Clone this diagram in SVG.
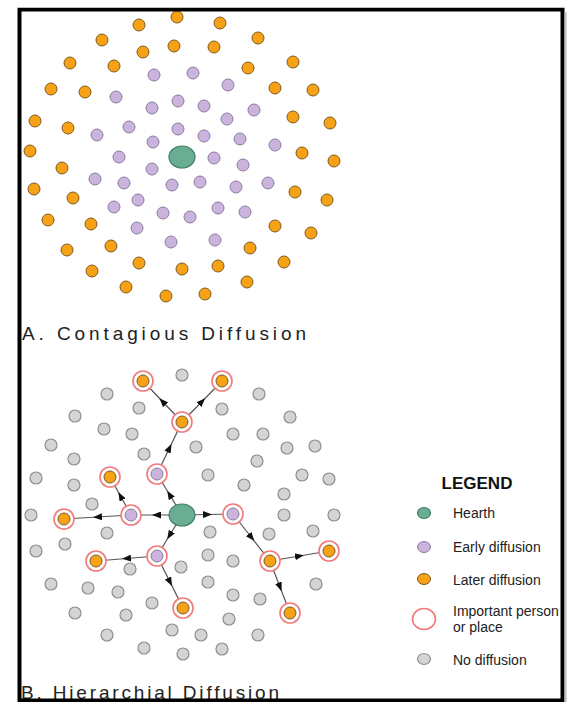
<svg xmlns="http://www.w3.org/2000/svg" width="570" height="702" viewBox="0 0 570 702">
<style>
.o{fill:#f6a116;stroke:#7d5c22;stroke-width:1}
.p{fill:#cab4de;stroke:#8b7b9e;stroke-width:1}
.g{fill:#d4d4d4;stroke:#8e8e8e;stroke-width:1.2}
.h{fill:#69ae93;stroke:#3f7c65;stroke-width:1.2}
.r{fill:#fff;stroke:#f07a7a;stroke-width:1.6}
.c{fill:none;stroke:#555;stroke-width:1.2;marker-mid:url(#ar)}
.lbl{font-family:"Liberation Sans",Arial,sans-serif;font-size:19px;fill:#222}
.lg{font-family:"Liberation Sans",Arial,sans-serif;font-size:14px;fill:#222}
</style>
<defs>
<marker id="ar" markerUnits="userSpaceOnUse" markerWidth="9" markerHeight="7" refX="4.5" refY="3.5" orient="auto">
<path d="M0,0 L9,3.5 L0,7 z" fill="#111"/>
</marker>
</defs>
<rect x="0" y="0" width="570" height="702" fill="#fff"/>

<g id="contagious">
<g id="a-later">
<circle class="o" cx="177" cy="17" r="6"/>
<circle class="o" cx="139" cy="25" r="6"/>
<circle class="o" cx="220" cy="23" r="6"/>
<circle class="o" cx="102" cy="40" r="6"/>
<circle class="o" cx="174" cy="46" r="6"/>
<circle class="o" cx="143" cy="52" r="6"/>
<circle class="o" cx="214" cy="47" r="6"/>
<circle class="o" cx="258" cy="38" r="6"/>
<circle class="o" cx="70" cy="63" r="6"/>
<circle class="o" cx="114" cy="66" r="6"/>
<circle class="o" cx="248" cy="68" r="6"/>
<circle class="o" cx="293" cy="62" r="6"/>
<circle class="o" cx="51" cy="89" r="6"/>
<circle class="o" cx="85" cy="92" r="6"/>
<circle class="o" cx="275" cy="88" r="6"/>
<circle class="o" cx="313" cy="90" r="6"/>
<circle class="o" cx="35" cy="121" r="6"/>
<circle class="o" cx="68" cy="128" r="6"/>
<circle class="o" cx="293" cy="117" r="6"/>
<circle class="o" cx="330" cy="123" r="6"/>
<circle class="o" cx="30" cy="151" r="6"/>
<circle class="o" cx="62" cy="168" r="6"/>
<circle class="o" cx="302" cy="153" r="6"/>
<circle class="o" cx="334" cy="161" r="6"/>
<circle class="o" cx="34" cy="189" r="6"/>
<circle class="o" cx="73" cy="198" r="6"/>
<circle class="o" cx="295" cy="192" r="6"/>
<circle class="o" cx="327" cy="200" r="6"/>
<circle class="o" cx="48" cy="220" r="6"/>
<circle class="o" cx="91" cy="224" r="6"/>
<circle class="o" cx="275" cy="226" r="6"/>
<circle class="o" cx="311" cy="233" r="6"/>
<circle class="o" cx="67" cy="250" r="6"/>
<circle class="o" cx="111" cy="246" r="6"/>
<circle class="o" cx="250" cy="248" r="6"/>
<circle class="o" cx="92" cy="271" r="6"/>
<circle class="o" cx="139" cy="263" r="6"/>
<circle class="o" cx="182" cy="269" r="6"/>
<circle class="o" cx="218" cy="266" r="6"/>
<circle class="o" cx="284" cy="262" r="6"/>
<circle class="o" cx="126" cy="287" r="6"/>
<circle class="o" cx="166" cy="296" r="6"/>
<circle class="o" cx="205" cy="294" r="6"/>
<circle class="o" cx="247" cy="282" r="6"/>
</g>
<g id="a-early">
<circle class="p" cx="154" cy="75" r="6"/>
<circle class="p" cx="193" cy="73" r="6"/>
<circle class="p" cx="228" cy="85" r="6"/>
<circle class="p" cx="116" cy="97" r="6"/>
<circle class="p" cx="178" cy="101" r="6"/>
<circle class="p" cx="152" cy="108" r="6"/>
<circle class="p" cx="204" cy="106" r="6"/>
<circle class="p" cx="254" cy="110" r="6"/>
<circle class="p" cx="227" cy="119" r="6"/>
<circle class="p" cx="129" cy="127" r="6"/>
<circle class="p" cx="178" cy="129" r="6"/>
<circle class="p" cx="97" cy="135" r="6"/>
<circle class="p" cx="204" cy="136" r="6"/>
<circle class="p" cx="240" cy="139" r="6"/>
<circle class="p" cx="275" cy="145" r="6"/>
<circle class="p" cx="153" cy="142" r="6"/>
<circle class="p" cx="119" cy="157" r="6"/>
<circle class="p" cx="214" cy="158" r="6"/>
<circle class="p" cx="152" cy="169" r="6"/>
<circle class="p" cx="243" cy="165" r="6"/>
<circle class="p" cx="95" cy="179" r="6"/>
<circle class="p" cx="124" cy="183" r="6"/>
<circle class="p" cx="172" cy="185" r="6"/>
<circle class="p" cx="200" cy="182" r="6"/>
<circle class="p" cx="236" cy="187" r="6"/>
<circle class="p" cx="268" cy="183" r="6"/>
<circle class="p" cx="138" cy="200" r="6"/>
<circle class="p" cx="114" cy="207" r="6"/>
<circle class="p" cx="163" cy="213" r="6"/>
<circle class="p" cx="190" cy="217" r="6"/>
<circle class="p" cx="218" cy="208" r="6"/>
<circle class="p" cx="245" cy="212" r="6"/>
<circle class="p" cx="137" cy="228" r="6"/>
<circle class="p" cx="171" cy="242" r="6"/>
<circle class="p" cx="215" cy="240" r="6"/>
</g>
<ellipse id="a-hearth" class="h" cx="182" cy="157" rx="13" ry="11"/>
</g>
<text class="lbl" x="22" y="340" textLength="284" lengthAdjust="spacing">A. Contagious Diffusion</text>

<g id="hierarchical">
<g id="b-none">
<circle class="g" cx="182" cy="375" r="6"/>
<circle class="g" cx="107" cy="394" r="6"/>
<circle class="g" cx="259" cy="394" r="6"/>
<circle class="g" cx="139" cy="408" r="6"/>
<circle class="g" cx="222" cy="409" r="6"/>
<circle class="g" cx="75" cy="416" r="6"/>
<circle class="g" cx="290" cy="417" r="6"/>
<circle class="g" cx="104" cy="429" r="6"/>
<circle class="g" cx="132" cy="434" r="6"/>
<circle class="g" cx="233" cy="434" r="6"/>
<circle class="g" cx="263" cy="434" r="6"/>
<circle class="g" cx="51" cy="445" r="6"/>
<circle class="g" cx="144" cy="454" r="6"/>
<circle class="g" cx="196" cy="447" r="6"/>
<circle class="g" cx="287" cy="448" r="6"/>
<circle class="g" cx="315" cy="446" r="6"/>
<circle class="g" cx="74" cy="459" r="6"/>
<circle class="g" cx="257" cy="461" r="6"/>
<circle class="g" cx="36" cy="478" r="6"/>
<circle class="g" cx="74" cy="485" r="6"/>
<circle class="g" cx="208" cy="475" r="6"/>
<circle class="g" cx="302" cy="475" r="6"/>
<circle class="g" cx="329" cy="479" r="6"/>
<circle class="g" cx="244" cy="485" r="6"/>
<circle class="g" cx="284" cy="494" r="6"/>
<circle class="g" cx="92" cy="504" r="6"/>
<circle class="g" cx="31" cy="515" r="6"/>
<circle class="g" cx="284" cy="515" r="6"/>
<circle class="g" cx="334" cy="515" r="6"/>
<circle class="g" cx="107" cy="533" r="6"/>
<circle class="g" cx="210" cy="532" r="6"/>
<circle class="g" cx="269" cy="534" r="6"/>
<circle class="g" cx="313" cy="531" r="6"/>
<circle class="g" cx="65" cy="544" r="6"/>
<circle class="g" cx="36" cy="551" r="6"/>
<circle class="g" cx="130" cy="569" r="6"/>
<circle class="g" cx="181" cy="567" r="6"/>
<circle class="g" cx="208" cy="555" r="6"/>
<circle class="g" cx="233" cy="561" r="6"/>
<circle class="g" cx="51" cy="584" r="6"/>
<circle class="g" cx="88" cy="588" r="6"/>
<circle class="g" cx="118" cy="592" r="6"/>
<circle class="g" cx="208" cy="582" r="6"/>
<circle class="g" cx="316" cy="584" r="6"/>
<circle class="g" cx="152" cy="603" r="6"/>
<circle class="g" cx="233" cy="595" r="6"/>
<circle class="g" cx="260" cy="599" r="6"/>
<circle class="g" cx="75" cy="613" r="6"/>
<circle class="g" cx="126" cy="615" r="6"/>
<circle class="g" cx="229" cy="619" r="6"/>
<circle class="g" cx="172" cy="630" r="6"/>
<circle class="g" cx="107" cy="635" r="6"/>
<circle class="g" cx="201" cy="635" r="6"/>
<circle class="g" cx="258" cy="635" r="6"/>
<circle class="g" cx="144" cy="648" r="6"/>
<circle class="g" cx="183" cy="654" r="6"/>
<circle class="g" cx="222" cy="649" r="6"/>
</g>

<g id="connectors">
<path class="c" d="M182,515 L169.5,494.5 L157,474"/>
<path class="c" d="M182,515 L156.5,515 L131,515"/>
<path class="c" d="M182,515 L169.5,535.5 L157,556"/>
<path class="c" d="M182,515 L207.5,514.5 L233,514"/>
<path class="c" d="M157,474 L169.5,448 L182,422"/>
<path class="c" d="M182,422 L162.5,401.5 L143,381"/>
<path class="c" d="M182,422 L202,401.5 L222,381"/>
<path class="c" d="M131,515 L120.5,496 L110,477"/>
<path class="c" d="M131,515 L97.5,517 L64,519"/>
<path class="c" d="M157,556 L126.5,558.5 L96,561"/>
<path class="c" d="M157,556 L170,582 L183,608"/>
<path class="c" d="M233,514 L251.5,537.5 L270,561"/>
<path class="c" d="M270,561 L299.5,556 L329,551"/>
<path class="c" d="M270,561 L280,587 L290,613"/>
</g>

<g id="b-hearth"><ellipse class="h" cx="182" cy="515" rx="13" ry="11"/></g>
<g id="b-p1"><circle class="r" cx="157" cy="474" r="10"/><circle class="p" cx="157" cy="474" r="6"/></g>
<g id="b-p2"><circle class="r" cx="131" cy="515" r="10"/><circle class="p" cx="131" cy="515" r="6"/></g>
<g id="b-p3"><circle class="r" cx="157" cy="556" r="10"/><circle class="p" cx="157" cy="556" r="6"/></g>
<g id="b-p4"><circle class="r" cx="233" cy="514" r="10"/><circle class="p" cx="233" cy="514" r="6"/></g>
<g id="b-o1"><circle class="r" cx="182" cy="422" r="10"/><circle class="o" cx="182" cy="422" r="6"/></g>
<g id="b-o2"><circle class="r" cx="143" cy="381" r="10"/><circle class="o" cx="143" cy="381" r="6"/></g>
<g id="b-o3"><circle class="r" cx="222" cy="381" r="10"/><circle class="o" cx="222" cy="381" r="6"/></g>
<g id="b-o4"><circle class="r" cx="110" cy="477" r="10"/><circle class="o" cx="110" cy="477" r="6"/></g>
<g id="b-o5"><circle class="r" cx="64" cy="519" r="10"/><circle class="o" cx="64" cy="519" r="6"/></g>
<g id="b-o6"><circle class="r" cx="96" cy="561" r="10"/><circle class="o" cx="96" cy="561" r="6"/></g>
<g id="b-o7"><circle class="r" cx="183" cy="608" r="10"/><circle class="o" cx="183" cy="608" r="6"/></g>
<g id="b-o8"><circle class="r" cx="270" cy="561" r="10"/><circle class="o" cx="270" cy="561" r="6"/></g>
<g id="b-o9"><circle class="r" cx="329" cy="551" r="10"/><circle class="o" cx="329" cy="551" r="6"/></g>
<g id="b-o10"><circle class="r" cx="290" cy="613" r="10"/><circle class="o" cx="290" cy="613" r="6"/></g>
</g>

<g id="legend">
<text x="477" y="489" text-anchor="middle" font-family="Liberation Sans, Arial, sans-serif" font-size="17" font-weight="bold" fill="#111">LEGEND</text>
<ellipse class="h" cx="424" cy="513" rx="6.5" ry="5.5"/>
<text class="lg" x="453" y="518">Hearth</text>
<ellipse class="p" cx="424" cy="547" rx="6.5" ry="5.5"/>
<text class="lg" x="453" y="552">Early diffusion</text>
<ellipse class="o" cx="424" cy="579" rx="6.5" ry="5.5"/>
<text class="lg" x="453" y="585">Later diffusion</text>
<ellipse cx="424" cy="619" rx="11.5" ry="10.5" fill="#fff" stroke="#f07a7a" stroke-width="1.6"/>
<text class="lg" x="453" y="616">Important person</text>
<text class="lg" x="453" y="632">or place</text>
<ellipse class="g" cx="424" cy="659" rx="6.5" ry="5.5"/>
<text class="lg" x="453" y="665">No diffusion</text>
</g>

<text class="lbl" x="21" y="699" textLength="258" lengthAdjust="spacing">B. Hierarchial Diffusion</text>

<rect id="frame" x="19.5" y="9.5" width="543" height="691" fill="none" stroke="#000" stroke-width="4"/>
<rect x="564.5" y="12" width="2" height="690" fill="#bbb"/>
<rect x="0" y="0" width="570" height="7.5" fill="#fff"/>
</svg>
